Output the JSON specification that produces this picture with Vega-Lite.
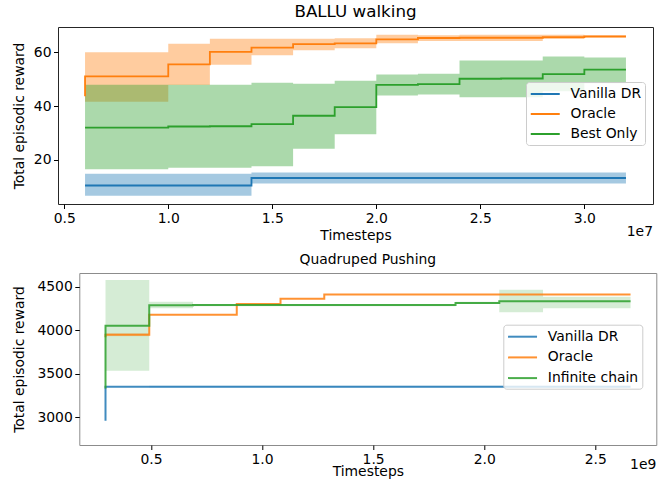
{
  "$schema": "https://vega.github.io/schema/vega-lite/v6.json",
  "background": "white",
  "padding": {"left": 11, "top": 3, "right": 5, "bottom": 5},
  "spacing": 8,
  "config": {
    "font": "DejaVu Sans",
    "view": {"stroke": "#262626", "strokeWidth": 1},
    "axis": {"grid": false, "domain": false, "tickColor": "#000", "tickSize": 4.5, "tickWidth": 1, "labelFontSize": 13.9, "titleFontSize": 13.9, "labelColor": "#000", "titleColor": "#000", "titleFontWeight": "normal", "labelPadding": 2.5, "titlePadding": 4},
    "title": {"fontSize": 16.7, "fontWeight": "normal", "color": "#000", "offset": 6},
    "legend": {"labelFontSize": 13.9, "labelColor": "#000", "symbolType": "M-1,0H3", "symbolSize": 210, "symbolStrokeWidth": 2, "labelOffset": 24, "padding": 3.5, "rowPadding": 4, "fillColor": "rgba(255,255,255,0.8)", "strokeColor": "#cccccc", "cornerRadius": 3}
  },
  "resolve": {"scale": {"color": "independent", "fill": "independent"}, "legend": {"color": "independent"}},
  "datasets": {
    "ballu": [
      {"series": "Vanilla DR", "t": 0.6, "y": 10.4, "lo": 10.4, "hi": 10.4},
      {"series": "Vanilla DR", "t": 1.0, "y": 10.4, "lo": 6.6, "hi": 14.8},
      {"series": "Vanilla DR", "t": 1.2, "y": 10.4, "lo": 6.6, "hi": 14.8},
      {"series": "Vanilla DR", "t": 1.4, "y": 10.4, "lo": 6.6, "hi": 14.8},
      {"series": "Vanilla DR", "t": 1.6, "y": 13.2, "lo": 11.1, "hi": 15.2},
      {"series": "Vanilla DR", "t": 1.8, "y": 13.2, "lo": 11.1, "hi": 15.2},
      {"series": "Vanilla DR", "t": 2.0, "y": 13.2, "lo": 11.1, "hi": 15.2},
      {"series": "Vanilla DR", "t": 2.2, "y": 13.2, "lo": 11.1, "hi": 15.2},
      {"series": "Vanilla DR", "t": 2.4, "y": 13.2, "lo": 11.1, "hi": 15.2},
      {"series": "Vanilla DR", "t": 2.6, "y": 13.2, "lo": 11.1, "hi": 15.2},
      {"series": "Vanilla DR", "t": 2.8, "y": 13.2, "lo": 11.1, "hi": 15.2},
      {"series": "Vanilla DR", "t": 3.0, "y": 13.2, "lo": 11.1, "hi": 15.2},
      {"series": "Vanilla DR", "t": 3.2, "y": 13.2, "lo": 11.1, "hi": 15.2},
      {"series": "Oracle", "t": 0.6, "y": 43.7, "lo": 43.7, "hi": 43.7},
      {"series": "Oracle", "t": 1.0, "y": 51.1, "lo": 41.6, "hi": 60.1},
      {"series": "Oracle", "t": 1.2, "y": 55.6, "lo": 47.9, "hi": 63.3},
      {"series": "Oracle", "t": 1.4, "y": 60.2, "lo": 55.4, "hi": 65.1},
      {"series": "Oracle", "t": 1.6, "y": 61.8, "lo": 59.0, "hi": 65.1},
      {"series": "Oracle", "t": 1.8, "y": 63.1, "lo": 60.8, "hi": 65.1},
      {"series": "Oracle", "t": 2.0, "y": 63.4, "lo": 61.6, "hi": 65.3},
      {"series": "Oracle", "t": 2.2, "y": 64.9, "lo": 63.4, "hi": 66.6},
      {"series": "Oracle", "t": 2.4, "y": 65.4, "lo": 64.3, "hi": 66.4},
      {"series": "Oracle", "t": 2.6, "y": 65.5, "lo": 64.3, "hi": 66.6},
      {"series": "Oracle", "t": 2.8, "y": 65.5, "lo": 64.3, "hi": 66.6},
      {"series": "Oracle", "t": 3.0, "y": 65.7, "lo": 65.0, "hi": 66.6},
      {"series": "Oracle", "t": 3.2, "y": 66.0, "lo": 65.4, "hi": 66.3},
      {"series": "Best Only", "t": 0.6, "y": 32.0, "lo": 32.0, "hi": 32.0},
      {"series": "Best Only", "t": 1.0, "y": 32.0, "lo": 16.5, "hi": 48.0},
      {"series": "Best Only", "t": 1.2, "y": 32.4, "lo": 17.0, "hi": 48.0},
      {"series": "Best Only", "t": 1.4, "y": 32.5, "lo": 17.0, "hi": 48.0},
      {"series": "Best Only", "t": 1.6, "y": 33.3, "lo": 17.6, "hi": 48.7},
      {"series": "Best Only", "t": 1.8, "y": 36.4, "lo": 24.1, "hi": 48.3},
      {"series": "Best Only", "t": 2.0, "y": 39.6, "lo": 29.5, "hi": 49.5},
      {"series": "Best Only", "t": 2.2, "y": 47.9, "lo": 44.0, "hi": 51.8},
      {"series": "Best Only", "t": 2.4, "y": 48.2, "lo": 44.3, "hi": 52.1},
      {"series": "Best Only", "t": 2.6, "y": 50.2, "lo": 43.3, "hi": 57.0},
      {"series": "Best Only", "t": 2.8, "y": 50.3, "lo": 43.3, "hi": 57.0},
      {"series": "Best Only", "t": 3.0, "y": 51.9, "lo": 45.5, "hi": 58.5},
      {"series": "Best Only", "t": 3.2, "y": 53.6, "lo": 48.5, "hi": 58.1}
    ],
    "quad": [
      {"series": "Vanilla DR", "t": 0.295, "y": 2960, "lo": 2960, "hi": 2960},
      {"series": "Vanilla DR", "t": 0.492, "y": 3351, "lo": 3351, "hi": 3351},
      {"series": "Vanilla DR", "t": 0.689, "y": 3351, "lo": 3341, "hi": 3361},
      {"series": "Vanilla DR", "t": 0.886, "y": 3351, "lo": 3341, "hi": 3361},
      {"series": "Vanilla DR", "t": 1.083, "y": 3351, "lo": 3341, "hi": 3361},
      {"series": "Vanilla DR", "t": 1.280, "y": 3351, "lo": 3341, "hi": 3361},
      {"series": "Vanilla DR", "t": 1.477, "y": 3351, "lo": 3341, "hi": 3361},
      {"series": "Vanilla DR", "t": 1.674, "y": 3351, "lo": 3341, "hi": 3361},
      {"series": "Vanilla DR", "t": 1.871, "y": 3351, "lo": 3341, "hi": 3361},
      {"series": "Vanilla DR", "t": 2.068, "y": 3351, "lo": 3341, "hi": 3361},
      {"series": "Vanilla DR", "t": 2.265, "y": 3351, "lo": 3341, "hi": 3361},
      {"series": "Vanilla DR", "t": 2.462, "y": 3351, "lo": 3341, "hi": 3361},
      {"series": "Vanilla DR", "t": 2.659, "y": 3351, "lo": 3341, "hi": 3361},
      {"series": "Oracle", "t": 0.295, "y": 3920, "lo": 3920, "hi": 3920},
      {"series": "Oracle", "t": 0.492, "y": 3948, "lo": 3930, "hi": 3968},
      {"series": "Oracle", "t": 0.689, "y": 4178, "lo": 4178, "hi": 4178},
      {"series": "Oracle", "t": 0.886, "y": 4178, "lo": 4178, "hi": 4178},
      {"series": "Oracle", "t": 1.083, "y": 4301, "lo": 4301, "hi": 4301},
      {"series": "Oracle", "t": 1.280, "y": 4362, "lo": 4362, "hi": 4362},
      {"series": "Oracle", "t": 1.477, "y": 4410, "lo": 4410, "hi": 4410},
      {"series": "Oracle", "t": 1.674, "y": 4410, "lo": 4410, "hi": 4410},
      {"series": "Oracle", "t": 1.871, "y": 4410, "lo": 4410, "hi": 4410},
      {"series": "Oracle", "t": 2.068, "y": 4410, "lo": 4410, "hi": 4410},
      {"series": "Oracle", "t": 2.265, "y": 4410, "lo": 4410, "hi": 4410},
      {"series": "Oracle", "t": 2.462, "y": 4410, "lo": 4410, "hi": 4410},
      {"series": "Oracle", "t": 2.659, "y": 4410, "lo": 4410, "hi": 4410},
      {"series": "Infinite chain", "t": 0.295, "y": 3330, "lo": 3330, "hi": 3330},
      {"series": "Infinite chain", "t": 0.492, "y": 4052, "lo": 3535, "hi": 4577},
      {"series": "Infinite chain", "t": 0.689, "y": 4286, "lo": 4252, "hi": 4328},
      {"series": "Infinite chain", "t": 0.886, "y": 4288, "lo": 4275, "hi": 4302},
      {"series": "Infinite chain", "t": 1.083, "y": 4288, "lo": 4275, "hi": 4302},
      {"series": "Infinite chain", "t": 1.280, "y": 4288, "lo": 4275, "hi": 4302},
      {"series": "Infinite chain", "t": 1.477, "y": 4288, "lo": 4275, "hi": 4302},
      {"series": "Infinite chain", "t": 1.674, "y": 4288, "lo": 4275, "hi": 4302},
      {"series": "Infinite chain", "t": 1.871, "y": 4288, "lo": 4275, "hi": 4302},
      {"series": "Infinite chain", "t": 2.068, "y": 4313, "lo": 4300, "hi": 4326},
      {"series": "Infinite chain", "t": 2.265, "y": 4332, "lo": 4206, "hi": 4466},
      {"series": "Infinite chain", "t": 2.462, "y": 4332, "lo": 4252, "hi": 4385},
      {"series": "Infinite chain", "t": 2.659, "y": 4332, "lo": 4252, "hi": 4385}
    ]
  },
  "vconcat": [
    {
      "width": 595,
      "height": 177,
      "title": {"text": "BALLU walking"},
      "layer": [
        {
          "data": {"name": "ballu"},
          "mark": {"type": "area", "interpolate": "step-before", "fillOpacity": 0.4},
          "encoding": {
            "x": {"field": "t", "type": "quantitative", "scale": {"domain": [0.47, 3.33], "nice": false, "zero": false}, "axis": {"values": [0.5, 1, 1.5, 2, 2.5, 3], "format": ".1f", "title": "Timesteps"}},
            "y": {"field": "lo", "type": "quantitative", "scale": {"domain": [3.5, 69.5], "nice": false, "zero": false}, "axis": {"values": [20, 40, 60], "title": "Total episodic reward", "titlePadding": 7}},
            "y2": {"field": "hi"},
            "fill": {"field": "series", "type": "nominal", "scale": {"domain": ["Best Only", "Oracle", "Vanilla DR"], "range": ["#2ca02c", "#ff7f0e", "#1f77b4"]}, "legend": null}
          }
        },
        {
          "data": {"name": "ballu"},
          "mark": {"type": "line", "interpolate": "step-before", "strokeWidth": 1.8},
          "encoding": {
            "x": {"field": "t", "type": "quantitative"},
            "y": {"field": "y", "type": "quantitative"},
            "color": {"field": "series", "type": "nominal", "scale": {"domain": ["Vanilla DR", "Oracle", "Best Only"], "range": ["#1f77b4", "#ff7f0e", "#2ca02c"]}, "legend": {"title": null, "orient": "none", "legendX": 468, "legendY": 55}}
          }
        },
        {
          "data": {"values": [{"label": "1e7"}]},
          "mark": {"type": "text", "align": "right", "baseline": "top", "dy": 21, "fontSize": 13.9, "color": "#000"},
          "encoding": {"x": {"datum": 3.33}, "y": {"datum": 3.5}, "text": {"field": "label"}}
        }
      ]
    },
    {
      "spacing": -46.7,
      "resolve": {"scale": {"color": "independent", "fill": "independent"}, "legend": {"color": "independent"}},
      "hconcat": [
        {
          "width": 1,
          "height": 172,
          "view": {"stroke": null},
          "data": {"values": []},
          "mark": "point",
          "encoding": {}
        },
        {
          "width": 577,
          "height": 172,
          "title": {"text": "Quadruped Pushing", "fontSize": 13.9},
          "view": {"stroke": "#8c8c8c"},
          "layer": [
            {
              "data": {"name": "quad"},
              "mark": {"type": "area", "interpolate": "step-before", "fillOpacity": 0.2},
              "encoding": {
                "x": {"field": "t", "type": "quantitative", "scale": {"domain": [0.177, 2.775], "nice": false, "zero": false}, "axis": {"values": [0.5, 1, 1.5, 2, 2.5], "format": ".1f", "title": "Timesteps", "titlePadding": -1}},
                "y": {"field": "lo", "type": "quantitative", "scale": {"domain": [2681, 4657], "nice": false, "zero": false}, "axis": {"values": [3000, 3500, 4000, 4500], "format": "d", "title": "Total episodic reward", "titlePadding": 10}},
                "y2": {"field": "hi"},
                "fill": {"field": "series", "type": "nominal", "scale": {"domain": ["Infinite chain", "Oracle", "Vanilla DR"], "range": ["#2ca02c", "#ff7f0e", "#1f77b4"]}, "legend": null}
              }
            },
            {
              "data": {"name": "quad"},
              "mark": {"type": "line", "interpolate": "step-before", "strokeWidth": 2, "opacity": 0.85},
              "encoding": {
                "x": {"field": "t", "type": "quantitative"},
                "y": {"field": "y", "type": "quantitative"},
                "color": {"field": "series", "type": "nominal", "scale": {"domain": ["Vanilla DR", "Oracle", "Infinite chain"], "range": ["#1f77b4", "#ff7f0e", "#2ca02c"]}, "legend": {"title": null, "orient": "none", "legendX": 424, "legendY": 51.7, "rowPadding": 4.7}}
              }
            },
            {
              "data": {"values": [{"label": "1e9"}]},
              "mark": {"type": "text", "align": "right", "baseline": "top", "dy": 13, "fontSize": 13.9, "color": "#000"},
              "encoding": {"x": {"datum": 2.775}, "y": {"datum": 2681}, "text": {"field": "label"}}
            }
          ]
        }
      ]
    }
  ]
}
